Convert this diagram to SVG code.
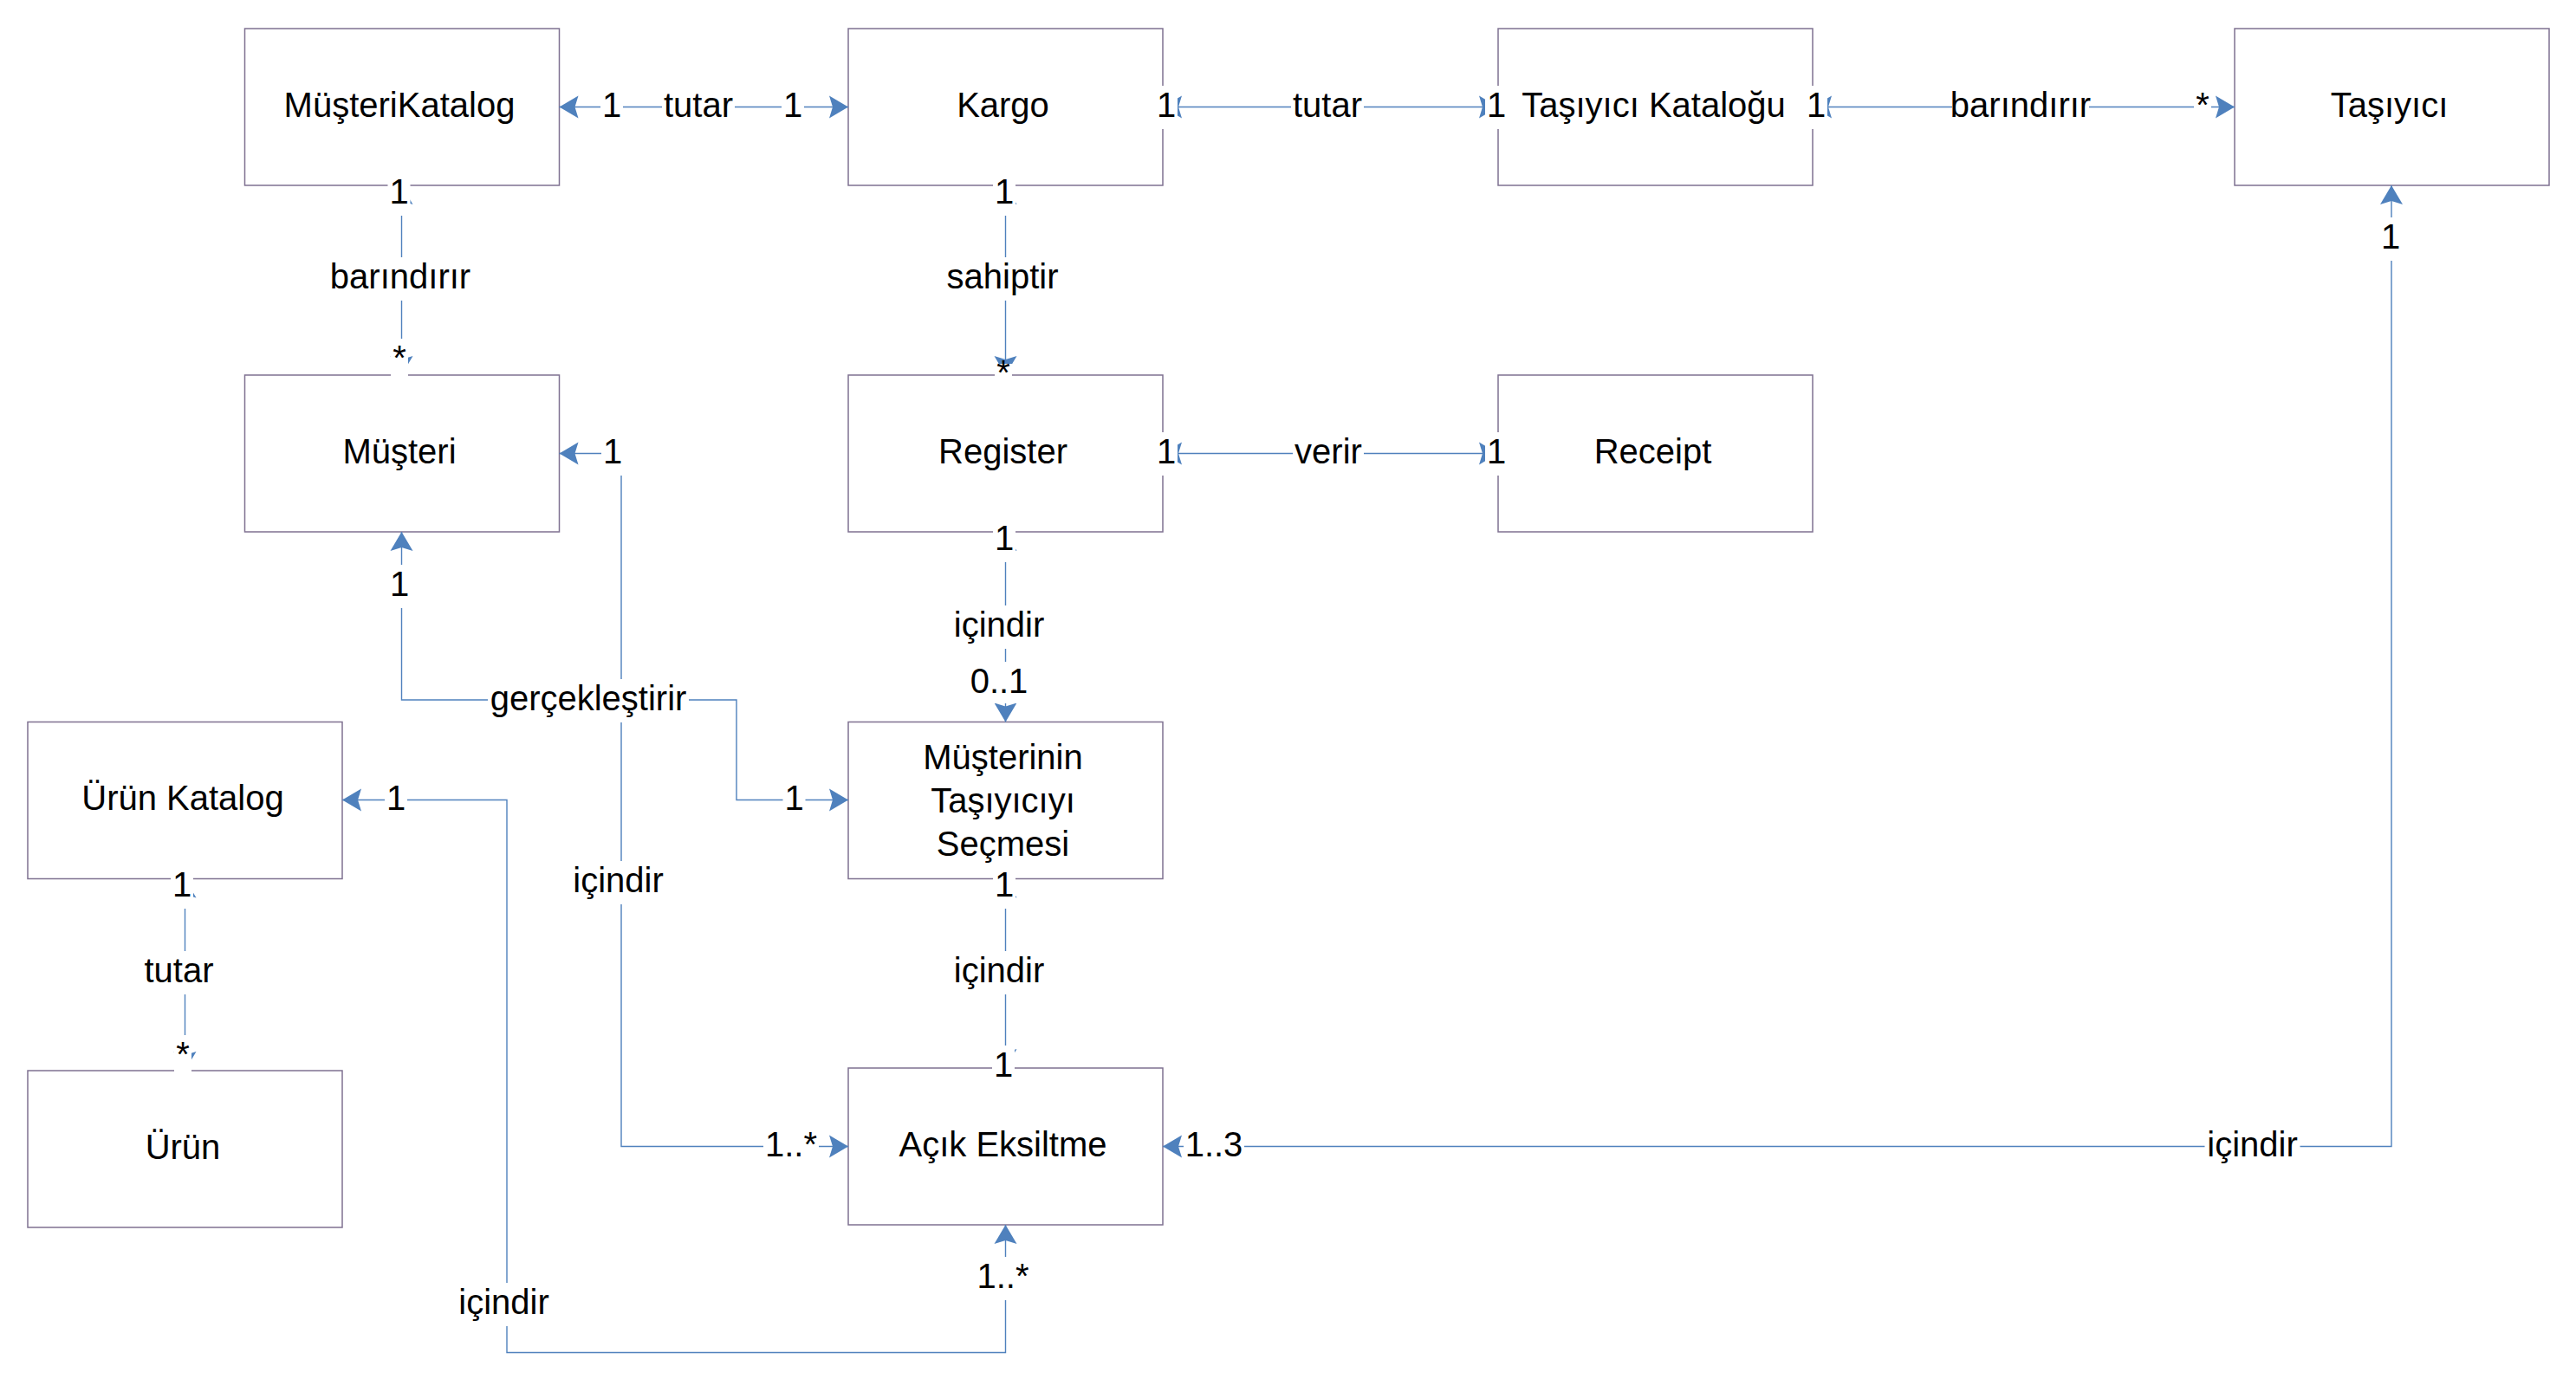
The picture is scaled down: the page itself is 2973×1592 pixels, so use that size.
<svg xmlns="http://www.w3.org/2000/svg" width="2973" height="1592" viewBox="0 0 2973 1592">
<defs>
<style>
.box{fill:#fff;stroke:#7f7191;stroke-width:1.5}
.t{font-family:"Liberation Sans",Arial,sans-serif;font-size:40px;text-anchor:middle;fill:#000}
.c{fill:none;stroke:#4f81bd;stroke-width:1.4;marker-start:url(#a);marker-end:url(#a)}
.bg{fill:#fff}
</style>
<marker id="a" markerUnits="userSpaceOnUse" markerWidth="24" markerHeight="28" viewBox="0 0 24 28" refX="23" refY="14" orient="auto-start-reverse">
<path d="M23,14 L1,1 L5,14 L1,27 Z" fill="#4f81bd"/>
</marker>
</defs>
<rect width="2973" height="1592" fill="#fff"/>

<g id="musteriKatalog"><rect class="box" x="282.5" y="33" width="363" height="181"/><text class="t" x="461" y="135">MüşteriKatalog</text></g>
<g id="kargo"><rect class="box" x="979" y="33" width="363" height="181"/><text class="t" x="1157.5" y="135">Kargo</text></g>
<g id="tasiyiciKatalogu"><rect class="box" x="1729" y="33" width="363" height="181"/><text class="t" x="1908.5" y="135">Taşıyıcı Kataloğu</text></g>
<g id="tasiyici"><rect class="box" x="2579" y="33" width="363" height="181"/><text class="t" x="2757.5" y="135">Taşıyıcı</text></g>
<g id="musteri"><rect class="box" x="282.5" y="433" width="363" height="181"/><text class="t" x="461" y="535">Müşteri</text></g>
<g id="register"><rect class="box" x="979" y="433" width="363" height="181"/><text class="t" x="1157.5" y="535">Register</text></g>
<g id="receipt"><rect class="box" x="1729" y="433" width="363" height="181"/><text class="t" x="1907.5" y="535">Receipt</text></g>
<g id="urunKatalog"><rect class="box" x="32" y="833.5" width="363" height="181"/><text class="t" x="211" y="935">Ürün Katalog</text></g>
<g id="secme"><rect class="box" x="979" y="833.5" width="363" height="181"/><text class="t" x="1157.5" y="888">Müşterinin</text><text class="t" x="1157.5" y="938">Taşıyıcıyı</text><text class="t" x="1157.5" y="988">Seçmesi</text></g>
<g id="urun"><rect class="box" x="32" y="1236" width="363" height="181"/><text class="t" x="211" y="1338">Ürün</text></g>
<g id="acikEksiltme"><rect class="box" x="979" y="1233" width="363" height="181"/><text class="t" x="1157.5" y="1335">Açık Eksiltme</text></g>

<g id="connectors">
<path class="c" d="M645.5,123.5 H979"/>
<path class="c" d="M1342,123.5 H1729"/>
<path class="c" d="M2092,123.5 H2579"/>
<path class="c" d="M463.5,214 V433"/>
<path class="c" d="M1160.5,214 V433"/>
<path class="c" d="M1342,523.5 H1729"/>
<path class="c" d="M1160.5,614 V833.5"/>
<path class="c" d="M463.5,614 V808 H850 V923.5 H979"/>
<path class="c" d="M645.5,523.5 H717 V1323.5 H979"/>
<path class="c" d="M395,923.5 H585 V1561.5 H1160.5 V1414"/>
<path class="c" d="M213.5,1014.5 V1236"/>
<path class="c" d="M1160.5,1014.5 V1233"/>
<path class="c" d="M1342,1323.5 H2760 V214"/>

<g id="labels">
<rect class="bg" x="693" y="99" width="26" height="50"/><text class="t" x="706" y="135">1</text>
<rect class="bg" x="764" y="99" width="84" height="50"/><text class="t" x="806" y="135">tutar</text>
<rect class="bg" x="902" y="99" width="26" height="50"/><text class="t" x="915" y="135">1</text>

<rect class="bg" x="1333" y="99" width="26" height="50"/><text class="t" x="1346" y="135">1</text>
<rect class="bg" x="1490" y="99" width="84" height="50"/><text class="t" x="1532" y="135">tutar</text>
<rect class="bg" x="1714" y="99" width="26" height="50"/><text class="t" x="1727" y="135">1</text>

<rect class="bg" x="2083" y="99" width="26" height="50"/><text class="t" x="2096" y="135">1</text>
<rect class="bg" x="2253" y="99" width="158" height="50"/><text class="t" x="2332" y="135">barındırır</text>
<rect class="bg" x="2532" y="99" width="20" height="50"/><text class="t" x="2542" y="135">*</text>

<rect class="bg" x="447.5" y="199" width="26" height="50"/><text class="t" x="460.5" y="235">1</text>
<rect class="bg" x="383" y="297" width="158" height="50"/><text class="t" x="462" y="333">barındırır</text>
<rect class="bg" x="451" y="391" width="20" height="50"/><text class="t" x="461" y="427">*</text>

<rect class="bg" x="1146" y="199" width="26" height="50"/><text class="t" x="1159" y="235">1</text>
<rect class="bg" x="1090" y="297" width="134" height="50"/><text class="t" x="1157" y="333">sahiptir</text>
<rect class="bg" x="1148" y="420" width="20" height="38"/><text class="t" x="1158" y="444">*</text>

<rect class="bg" x="1333" y="499" width="26" height="50"/><text class="t" x="1346" y="535">1</text>
<rect class="bg" x="1492" y="499" width="82" height="50"/><text class="t" x="1533" y="535">verir</text>
<rect class="bg" x="1714" y="499" width="26" height="50"/><text class="t" x="1727" y="535">1</text>

<rect class="bg" x="1146" y="599" width="26" height="50"/><text class="t" x="1159" y="635">1</text>
<rect class="bg" x="1098" y="699" width="110" height="50"/><text class="t" x="1153" y="735">içindir</text>
<rect class="bg" x="1118" y="764" width="70" height="48"/><text class="t" x="1153" y="800">0..1</text>

<rect class="bg" x="448" y="652" width="26" height="50"/><text class="t" x="461" y="688">1</text>
<rect class="bg" x="563" y="784" width="232" height="50"/><text class="t" x="679" y="820">gerçekleştirir</text>
<rect class="bg" x="903.5" y="899" width="26" height="50"/><text class="t" x="916.5" y="935">1</text>

<rect class="bg" x="694" y="499" width="26" height="50"/><text class="t" x="707" y="535">1</text>
<rect class="bg" x="658.5" y="994" width="110" height="50"/><text class="t" x="713.5" y="1030">içindir</text>
<rect class="bg" x="881" y="1299" width="64" height="50"/><text class="t" x="913" y="1335">1..*</text>

<rect class="bg" x="444" y="899" width="26" height="50"/><text class="t" x="457" y="935">1</text>
<rect class="bg" x="526.5" y="1481" width="110" height="50"/><text class="t" x="581.5" y="1517">içindir</text>
<rect class="bg" x="1125.5" y="1451" width="64" height="50"/><text class="t" x="1157.5" y="1487">1..*</text>

<rect class="bg" x="197" y="999" width="26" height="50"/><text class="t" x="210" y="1035">1</text>
<rect class="bg" x="164.5" y="1098" width="84" height="50"/><text class="t" x="206.5" y="1134">tutar</text>
<rect class="bg" x="201" y="1195" width="20" height="50"/><text class="t" x="211" y="1231">*</text>

<rect class="bg" x="1146" y="999" width="26" height="50"/><text class="t" x="1159" y="1035">1</text>
<rect class="bg" x="1098" y="1098" width="110" height="50"/><text class="t" x="1153" y="1134">içindir</text>
<rect class="bg" x="1145" y="1207" width="26" height="50"/><text class="t" x="1158" y="1243">1</text>

<rect class="bg" x="1366" y="1299" width="70" height="50"/><text class="t" x="1401" y="1335">1..3</text>
<rect class="bg" x="2544.5" y="1299" width="110" height="50"/><text class="t" x="2599.5" y="1335">içindir</text>
<rect class="bg" x="2746" y="251" width="26" height="50"/><text class="t" x="2759" y="287">1</text>
</g>
</g>
</svg>
